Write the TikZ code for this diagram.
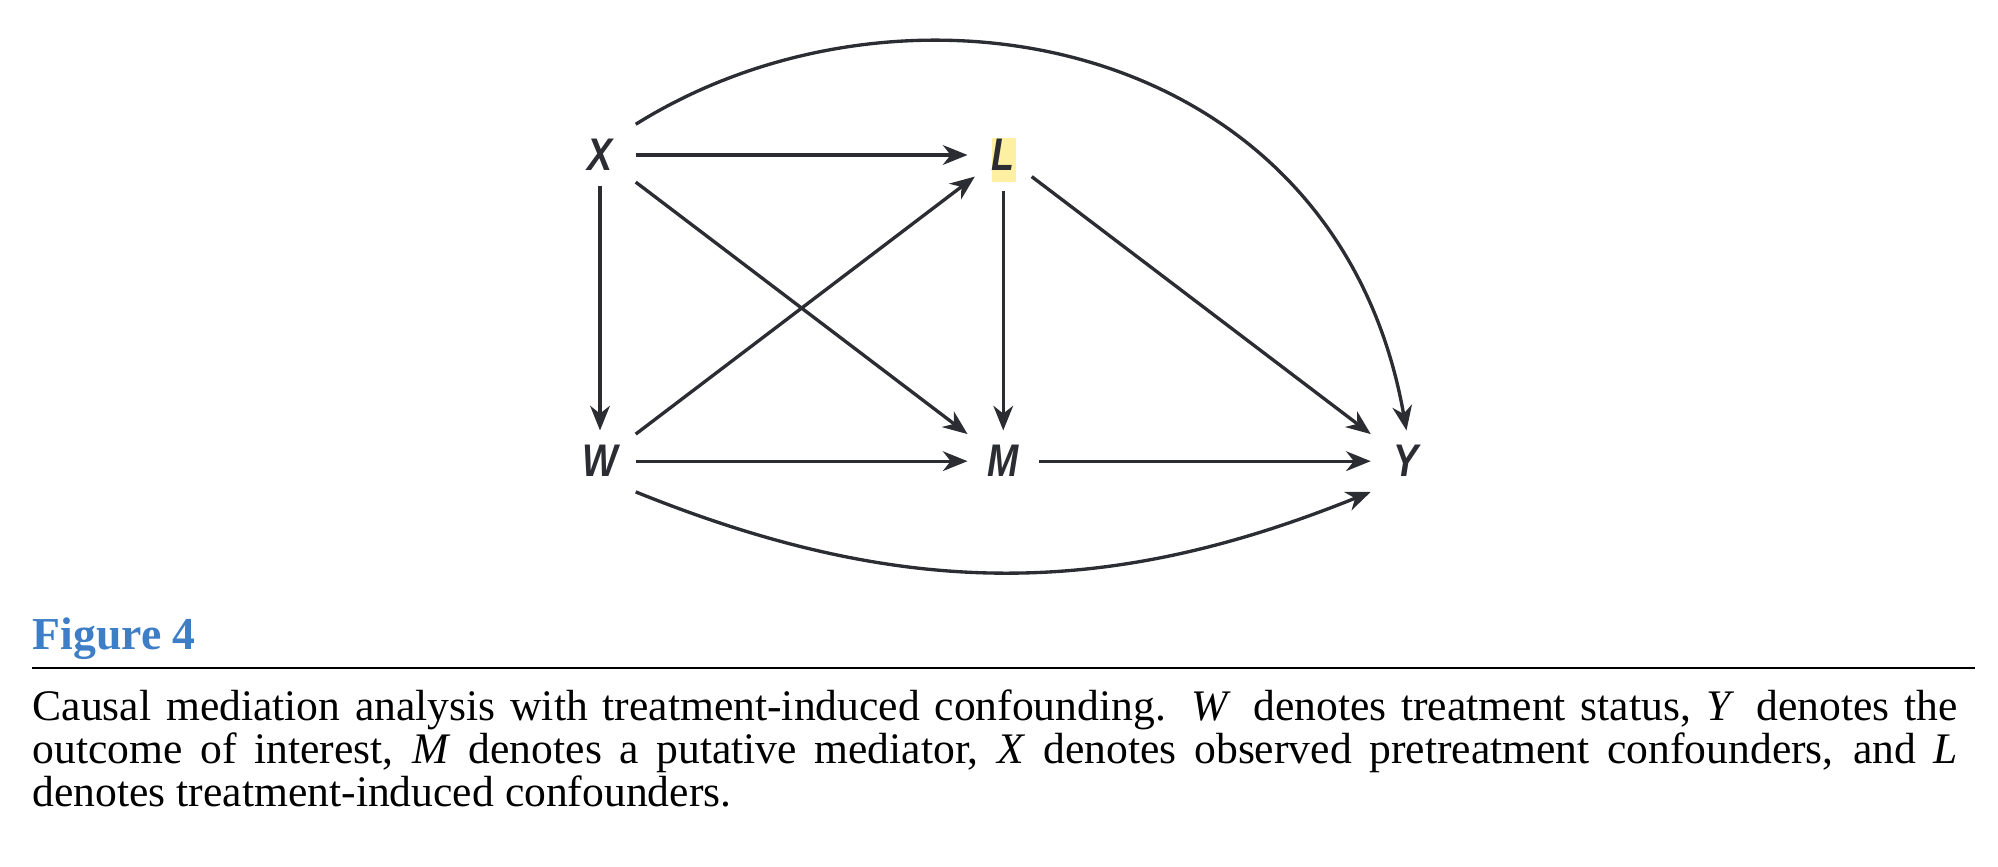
\documentclass[tikz,border=0pt]{standalone}
\usepackage{fontspec}
\setmainfont{Liberation Serif}
\setsansfont{Liberation Sans}
\usepackage{graphicx}
\usetikzlibrary{arrows.meta,positioning,calc,backgrounds}
\definecolor{ink}{HTML}{2B2D33}
\definecolor{hilite}{HTML}{FDF0A2}
\definecolor{figblue}{HTML}{3D7EC6}
\newcommand{\varlabel}[1]{\scalebox{0.82}[1]{#1}}
\newcommand{\dagcol}{4.03cm}
\newcommand{\dagrow}{3.06cm}
\tikzset{
  var/.style={rectangle, on grid, minimum width=0.7cm, minimum height=0.6cm,
    inner sep=0pt, text=ink, font=\fontsize{13}{13}\selectfont\sffamily\bfseries\itshape},
  causal/.style={draw=ink, line width=0.95pt,
    -{Stealth[length=7pt,width=5.6pt,inset=2.2pt]}},
}

\begin{document}
\begin{tikzpicture}[x=0.01cm, y=0.01cm]
  \useasboundingbox (0,0) rectangle (1998,866);
  % define vertices
  \node[var] (X) at (600,711) {\varlabel{X}};
  \node[var, circle, minimum size=0.7cm, right=\dagcol of X] (L) {\varlabel{L}};
  \node[var, below=\dagrow of X] (W) {\varlabel{W}};
  \node[var, below=\dagrow of L] (M) {\varlabel{M}};
  \node[var, right=\dagcol of M] (Y) {\varlabel{Y}};
  % highlight behind L
  \begin{scope}[on background layer]
    \fill[hilite] ($(L)+(-11,16.5)$) rectangle ($(L)+(13,-27.5)$);
  \end{scope}
  % draw straight edges
  \draw[causal] (X) -- (L);
  \draw[causal] (X) -- (W);
  \draw[causal] (X) -- (M);
  \draw[causal] (W) -- (L);
  \draw[causal] (L) -- (M);
  \draw[causal] (L) -- (Y);
  \draw[causal] (W) -- (M);
  \draw[causal] (M) -- (Y);
  % draw curved edges
  \draw[causal] (W.south east) to[out=-22, in=-158] (Y.south west);
  \draw[causal] (X.north east) .. controls +(32:320) and +(100:400) .. (Y.north);
  % add caption
  \node[anchor=base west, inner sep=0pt, text=figblue,
    font=\fontsize{13}{14}\selectfont\bfseries] (fig_title) at (32,217) {Figure 4};
  \coordinate (rule_left) at (32,198);
  \coordinate (rule_right) at (1975,198);
  \draw[line width=0.7pt] (rule_left) -- (rule_right);
  \node[anchor=base west, inner sep=0pt, text width=19.24cm, align=justify,
    font=\fontsize{12.4}{12.3}\selectfont] (fig_caption) at (32,146)
    {Causal mediation analysis with treatment-induced confounding. \textit{W}\, denotes treatment status, \textit{Y}\, denotes the\linebreak
     outcome of interest, \textit{M} denotes a putative mediator, \textit{X} denotes observed pretreatment confounders, and \textit{L}\linebreak
     denotes treatment-induced confounders.};
\end{tikzpicture}
\end{document}
